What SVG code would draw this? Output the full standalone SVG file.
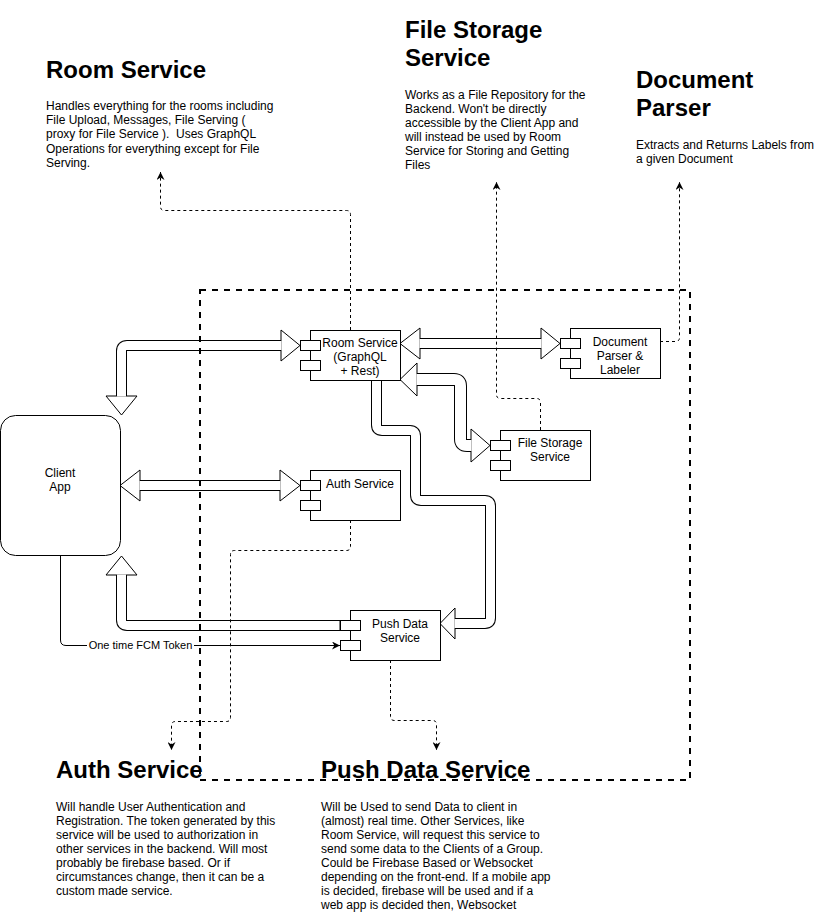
<svg xmlns="http://www.w3.org/2000/svg" width="821" height="921" viewBox="0 0 821 921">
<style>
text{font-family:"Liberation Sans",Arial,sans-serif;fill:#000}
.h{font-size:24px;font-weight:bold}
.b{font-size:12px}
.lbl{font-size:12px;text-anchor:middle}
.node{fill:#fff;stroke:#000;stroke-width:1}
.fo{fill:none;stroke:#000;stroke-linecap:butt;stroke-linejoin:round}
.fi{fill:none;stroke:#fff;stroke-linecap:butt;stroke-linejoin:round}
.hd{fill:#fff;stroke:#000;stroke-width:1;stroke-linejoin:miter}
.dash{fill:none;stroke:#000;stroke-width:1;stroke-dasharray:3 3}
</style>
<defs>
<marker id="ah" viewBox="0 0 10 10" refX="10" refY="5" markerWidth="8" markerHeight="8" markerUnits="userSpaceOnUse" orient="auto">
<path d="M0,0 L10,5 L0,10 L3,5 Z" fill="#000" stroke="none"/>
</marker>
</defs>
<g id="connectors">
<!-- Client <-> Auth -->
<path class="fo" stroke-width="11" d="M140,485.5 H280"/>
<polygon class="hd" points="140,470 120,485.5 140,501"/>
<polygon class="hd" points="280,470 300,485.5 280,501"/>
<path class="fi" stroke-width="9" d="M139.5,485.5 H280.5"/>
<!-- Room Service -> Client -->
<path class="fo" stroke-width="11" d="M281,345.5 H127 Q121.5,345.5 121.5,351 V396"/>
<polygon class="hd" points="281,330 300,345.5 281,361"/>
<polygon class="hd" points="106,396 121.5,415 137,396"/>
<path class="fi" stroke-width="9" d="M281.5,345.5 H127 Q121.5,345.5 121.5,351 V396.5"/>
<!-- Room <-> Document -->
<path class="fo" stroke-width="11" d="M420,343.5 H541"/>
<polygon class="hd" points="420,328 400,343.5 420,359"/>
<polygon class="hd" points="541,328 560,343.5 541,359"/>
<path class="fi" stroke-width="9" d="M419.5,343.5 H541.5"/>
<!-- Room <-> File Storage -->
<path class="fo" stroke-width="13" d="M417,379.5 H454 Q460.5,379.5 460.5,386 V439 Q460.5,445.5 467,445.5 H471"/>
<polygon class="hd" points="417,363 400,379.5 417,396"/>
<polygon class="hd" points="471,429 490,445.5 471,462"/>
<path class="fi" stroke-width="11" d="M416.5,379.5 H454 Q460.5,379.5 460.5,386 V439 Q460.5,445.5 467,445.5 H471.5"/>
<!-- Room -> Push Data -->
<path class="fo" stroke-width="11" d="M376.5,380 V425 Q376.5,430.5 382,430.5 H410 Q415.5,430.5 415.5,436 V495 Q415.5,500.5 421,500.5 H485 Q490.5,500.5 490.5,506 V618 Q490.5,623.5 485,623.5 H455"/>
<polygon class="hd" points="455,608 440,623.5 455,639"/>
<path class="fi" stroke-width="9" d="M376.5,380.5 V425 Q376.5,430.5 382,430.5 H410 Q415.5,430.5 415.5,436 V495 Q415.5,500.5 421,500.5 H485 Q490.5,500.5 490.5,506 V618 Q490.5,623.5 485,623.5 H454.5"/>
<!-- Push Data -> Client -->
<path class="fo" stroke-width="11" d="M340,625.5 H127 Q121.5,625.5 121.5,620 V575"/>
<polygon class="hd" points="106,575 121.5,556 137,575"/>
<path class="fi" stroke-width="9" d="M340,625.5 H127 Q121.5,625.5 121.5,620 V574.5"/>
<line x1="340" y1="620" x2="340" y2="631" stroke="#000" stroke-width="1"/>
<!-- FCM token -->
<path fill="none" stroke="#000" stroke-width="1" d="M60.5,555 V640 Q60.5,645.5 66,645.5 H340" marker-end="url(#ah)"/>
<rect x="87" y="638" width="107" height="14" fill="#fff"/>
<text x="140.5" y="649" font-size="11" text-anchor="middle">One time FCM Token</text>
<!-- dashed annotation connectors -->
<path class="dash" d="M350.5,330 V214.5 Q350.5,210.5 346.5,210.5 H164.5 Q160.5,210.5 160.5,206.5 V172" marker-end="url(#ah)"/>
<path class="dash" d="M540.5,430 V402.5 Q540.5,398.5 536.5,398.5 H500.5 Q496.5,398.5 496.5,394.5 V182" marker-end="url(#ah)"/>
<path class="dash" d="M660,341.5 H675.5 Q679.5,341.5 679.5,337.5 V182" marker-end="url(#ah)"/>
<path class="dash" d="M350.5,520 V546.5 Q350.5,550.5 346.5,550.5 H234.5 Q230.5,550.5 230.5,554.5 V717.5 Q230.5,721.5 226.5,721.5 H175.5 Q171.5,721.5 171.5,725.5 V750" marker-end="url(#ah)"/>
<path class="dash" d="M390.5,660 V716.5 Q390.5,720.5 394.5,720.5 H432.5 Q436.5,720.5 436.5,724.5 V750" marker-end="url(#ah)"/>
</g>
<g id="client-app">
<rect class="node" x="0.5" y="415.5" width="120" height="140" rx="15" ry="15"/>
<text class="lbl" x="60" y="477">Client</text>
<text class="lbl" x="60" y="491">App</text>
</g>
<g id="room-service">
<rect class="node" x="310.5" y="330.5" width="90" height="50"/>
<rect class="node" x="300.5" y="340.5" width="20" height="10"/>
<rect class="node" x="300.5" y="360.5" width="20" height="10"/>
<text class="lbl" x="360" y="347">Room Service</text>
<text class="lbl" x="360" y="361">(GraphQL</text>
<text class="lbl" x="360" y="375">+ Rest)</text>
</g>
<g id="document-parser">
<rect class="node" x="570.5" y="328.5" width="90" height="50"/>
<rect class="node" x="560.5" y="338.5" width="20" height="10"/>
<rect class="node" x="560.5" y="358.5" width="20" height="10"/>
<text class="lbl" x="620" y="346">Document</text>
<text class="lbl" x="620" y="360">Parser &amp;</text>
<text class="lbl" x="620" y="374">Labeler</text>
</g>
<g id="file-storage">
<rect class="node" x="500.5" y="430.5" width="90" height="50"/>
<rect class="node" x="490.5" y="440.5" width="20" height="10"/>
<rect class="node" x="490.5" y="460.5" width="20" height="10"/>
<text class="lbl" x="550" y="447">File Storage</text>
<text class="lbl" x="550" y="461">Service</text>
</g>
<g id="auth-service">
<rect class="node" x="310.5" y="470.5" width="90" height="50"/>
<rect class="node" x="300.5" y="480.5" width="20" height="10"/>
<rect class="node" x="300.5" y="500.5" width="20" height="10"/>
<text class="lbl" x="360" y="487.5">Auth Service</text>
</g>
<g id="push-data">
<rect class="node" x="350.5" y="610.5" width="90" height="50"/>
<rect class="node" x="340.5" y="620.5" width="20" height="10"/>
<rect class="node" x="340.5" y="640.5" width="20" height="10"/>
<text class="lbl" x="400" y="627.5">Push Data</text>
<text class="lbl" x="400" y="641.5">Service</text>
</g>
<g id="backend-boundary">
<rect x="200" y="290" width="490" height="490" fill="none" stroke="#000" stroke-width="2" stroke-dasharray="6 6"/>
</g>
<g id="note-room">
<text class="h" x="46" y="78">Room Service</text>
<text class="b" x="46" y="110"><tspan x="46">Handles everything for the rooms including</tspan><tspan x="46" dy="14.2">File Upload, Messages, File Serving (</tspan><tspan x="46" dy="14.2">proxy for File Service ).&#160; Uses GraphQL</tspan><tspan x="46" dy="14.2">Operations for everything except for File</tspan><tspan x="46" dy="14.2">Serving.</tspan></text>
</g>
<g id="note-file">
<text class="h" x="405" y="38">File Storage</text>
<text class="h" x="405" y="66">Service</text>
<text class="b" x="405" y="99"><tspan x="405">Works as a File Repository for the</tspan><tspan x="405" dy="14">Backend. Won't be directly</tspan><tspan x="405" dy="14">accessible by the Client App and</tspan><tspan x="405" dy="14">will instead be used by Room</tspan><tspan x="405" dy="14">Service for Storing and Getting</tspan><tspan x="405" dy="14">Files</tspan></text>
</g>
<g id="note-doc">
<text class="h" x="636" y="88">Document</text>
<text class="h" x="636" y="116">Parser</text>
<text class="b" x="636" y="149"><tspan x="636">Extracts and Returns Labels from</tspan><tspan x="636" dy="14">a given Document</tspan></text>
</g>
<g id="note-auth">
<text class="h" x="56" y="778">Auth Service</text>
<text class="b" x="56" y="811"><tspan x="56">Will handle User Authentication and</tspan><tspan x="56" dy="14">Registration. The token generated by this</tspan><tspan x="56" dy="14">service will be used to authorization in</tspan><tspan x="56" dy="14">other services in the backend. Will most</tspan><tspan x="56" dy="14">probably be firebase based. Or if</tspan><tspan x="56" dy="14">circumstances change, then it can be a</tspan><tspan x="56" dy="14">custom made service.</tspan></text>
</g>
<g id="note-push">
<text class="h" x="321" y="778">Push Data Service</text>
<text class="b" x="321" y="811"><tspan x="321">Will be Used to send Data to client in</tspan><tspan x="321" dy="14">(almost) real time. Other Services, like</tspan><tspan x="321" dy="14">Room Service, will request this service to</tspan><tspan x="321" dy="14">send some data to the Clients of a Group.</tspan><tspan x="321" dy="14">Could be Firebase Based or Websocket</tspan><tspan x="321" dy="14">depending on the front-end. If a mobile app</tspan><tspan x="321" dy="14">is decided, firebase will be used and if a</tspan><tspan x="321" dy="14">web app is decided then, Websocket</tspan></text>
</g>
</svg>
